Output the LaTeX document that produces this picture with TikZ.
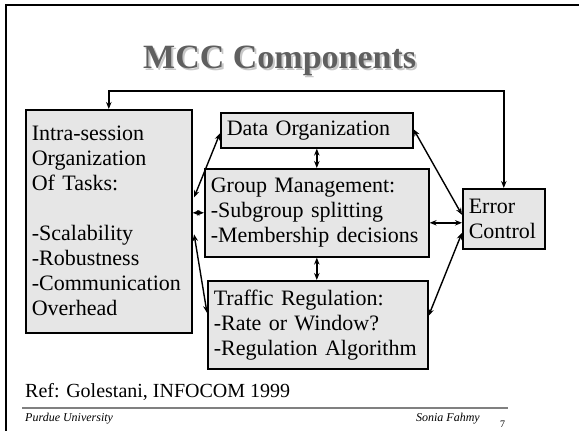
\documentclass[tikz,border=0pt]{standalone}
\usepackage{fontspec}
\setmainfont{Liberation Serif}
\usetikzlibrary{arrows.meta}
\definecolor{boxgray}{RGB}{230,230,230}
\definecolor{titlegray}{RGB}{95,95,95}
\definecolor{shadowgray}{RGB}{200,200,200}
\newcommand\shadowtext[1]{\rlap{\hspace{2pt}\raisebox{-2pt}{\textcolor{shadowgray}{#1}}}#1}
\begin{document}
\begin{tikzpicture}[x=1pt,y=-1pt]
            \tikzstyle{box}=[draw,fill=boxgray,line width=1.6pt,anchor=north west,align=left,inner xsep=6pt,inner ysep=0pt,font=\fontsize{22}{25}\selectfont]
            \tikzstyle{link}=[line width=1.4pt,{Stealth[length=7pt,width=5.5pt]}-{Stealth[length=7pt,width=5.5pt]}]
            \tikzstyle{title}=[anchor=base west,inner sep=0pt,font=\fontsize{34}{40}\selectfont\bfseries]
            \tikzstyle{foot}=[anchor=base west,inner sep=0pt,font=\fontsize{12}{14}\selectfont\itshape]
            \useasboundingbox (0,0) rectangle (579,431);

            % frame and title
            \draw[line width=2pt] (6,431) |- (579,5);
            \node(t)[title,text=titlegray] at (143,68) {\shadowtext{MCC Components}};

            % boxes
            \node(intra)[box,text width=154pt,minimum height=223pt] at (25,109)
            {Intra-session\\Organization\\Of Tasks:\\[25pt]-Scalability\\-Robustness\\-Communication\\Overhead};
            \node(data)[box,text width=180pt,minimum height=35pt] at (220,112) {Data Organization};
            \node(group)[box,text width=212pt,minimum height=88pt] at (204,168)
            {Group Management:\\-Subgroup splitting\\-Membership decisions};
            \node(traffic)[box,text width=208pt,minimum height=88pt] at (207,280)
            {Traffic Regulation:\\-Rate or Window?\\-Regulation Algorithm};
            \node(error)[box,text width=70pt,minimum height=60pt] at (462,188) {Error\\Control};

            % connectors
            \coordinate(fb) at (300,91);
            \draw[link] (intra.north) |- (fb) -| (error.north);
            \draw[link] ([xshift=1.5pt,yshift=24pt]intra.east) -- ([yshift=-3pt]data.west);
            \draw[link] (group.west -| intra.east) -- (group.west);
            \draw[link] ([xshift=1.5pt,yshift=-13pt]intra.east) -- ([yshift=12pt]traffic.west);
            \draw[link] (data.south) -- (group.north);
            \draw[link] (group.south) -- (group.south |- traffic.north);
            \draw[link] ([yshift=1pt]data.east) -- ([yshift=4pt]error.west);
            \draw[link] ([yshift=-4pt]error.west -| group.east) -- ([yshift=-4pt]error.west);
            \draw[link] ([yshift=9pt]traffic.east) -- ([yshift=-14pt]error.west);

            % reference and footer
            \node(ref)[anchor=base west,inner sep=0pt,font=\fontsize{20}{24}\selectfont] at (25,397) {Ref: Golestani, INFOCOM 1999};
            \draw[line width=1.5pt,gray] (22,408) -- (508,408);
            \node(pu)[foot] at (25,421) {Purdue University};
            \node(sf)[foot,anchor=base east] at (480,421) {Sonia Fahmy};
            \node(pg)[anchor=base west,inner sep=0pt,font=\fontsize{10}{12}\selectfont] at (500,427) {7};
        \end{tikzpicture}
\end{document}
